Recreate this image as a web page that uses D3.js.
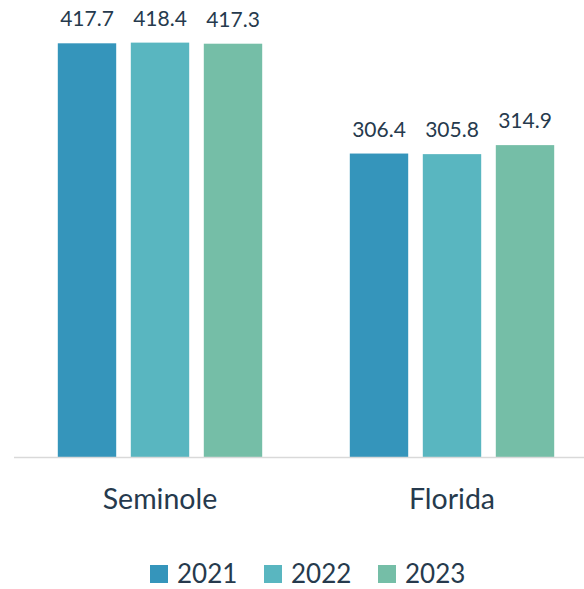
<!DOCTYPE html>
<html>
<head>
<meta charset="utf-8">
<script src="https://cdn.jsdelivr.net/npm/d3@7"></script>
<style>
  body { margin: 0; background: #fff; }
  svg { display: block; font-family: Lato, "Open Sans", sans-serif; }
</style>
</head>
<body>
<svg id="chart" width="584" height="589"></svg>
<script>
const categories = ["Seminole", "Florida"];
const years = ["2021", "2022", "2023"];
const values2021 = [417.7, 306.4];
const values2022 = [418.4, 305.8];
const values2023 = [417.3, 314.9];
const colors = ["#3595bb", "#59b6c0", "#75bea7"];

const series = [values2021, values2022, values2023];
const rows = categories.map((c, i) => ({
  name: c,
  vals: years.map((y, j) => ({year: y, value: series[j][i]}))
}));

const svg = d3.select("#chart");
const textColor = "#263a4d";
const baseY = 457;

const x0 = d3.scaleBand().domain(categories).range([14, 598]);
const x1 = d3.scaleBand().domain(years).range([0, x0.bandwidth()])
    .paddingInner(0.2).paddingOuter(0.6);
const y = d3.scaleLinear().domain([0, 450]).range([baseY, baseY - 450 * 0.9904]);
const color = d3.scaleOrdinal().domain(years).range(colors);

const groups = svg.append("g")
  .selectAll("g")
  .data(rows)
  .join("g")
    .attr("transform", d => `translate(${x0(d.name)},0)`);

groups.selectAll("rect")
  .data(d => d.vals)
  .join("rect")
    .attr("x", d => x1(d.year))
    .attr("y", d => y(d.value))
    .attr("width", x1.bandwidth())
    .attr("height", d => y(0) - y(d.value))
    .attr("fill", d => color(d.year));

groups.selectAll("text.val")
  .data(d => d.vals)
  .join("text")
    .attr("class", "val")
    .attr("x", d => x1(d.year) + x1.bandwidth() / 2)
    .attr("y", d => y(d.value) - 17)
    .attr("text-anchor", "middle")
    .attr("font-size", 21)
    .attr("fill", textColor)
    .text(d => d.value.toFixed(1));

// baseline
svg.append("line")
    .attr("x1", 14).attr("x2", 584)
    .attr("y1", baseY + 0.5).attr("y2", baseY + 0.5)
    .attr("stroke", "#d9d9d9")
    .attr("stroke-width", 1.5);

// category labels
svg.append("g")
  .selectAll("text")
  .data(categories)
  .join("text")
    .attr("x", d => x0(d) + x0.bandwidth() / 2)
    .attr("y", 509)
    .attr("text-anchor", "middle")
    .attr("font-size", 28.5)
    .attr("fill", textColor)
    .text(d => d);

// legend
const legend = svg.append("g")
  .selectAll("g")
  .data(years)
  .join("g")
    .attr("transform", (d, i) => `translate(${150 + i * 114},0)`);

legend.append("rect")
    .attr("x", 0).attr("y", 565)
    .attr("width", 18).attr("height", 18)
    .attr("fill", d => color(d));

legend.append("text")
    .attr("x", 27)
    .attr("y", 583)
    .attr("font-size", 26)
    .attr("fill", textColor)
    .text(d => d);
</script>
</body>
</html>
